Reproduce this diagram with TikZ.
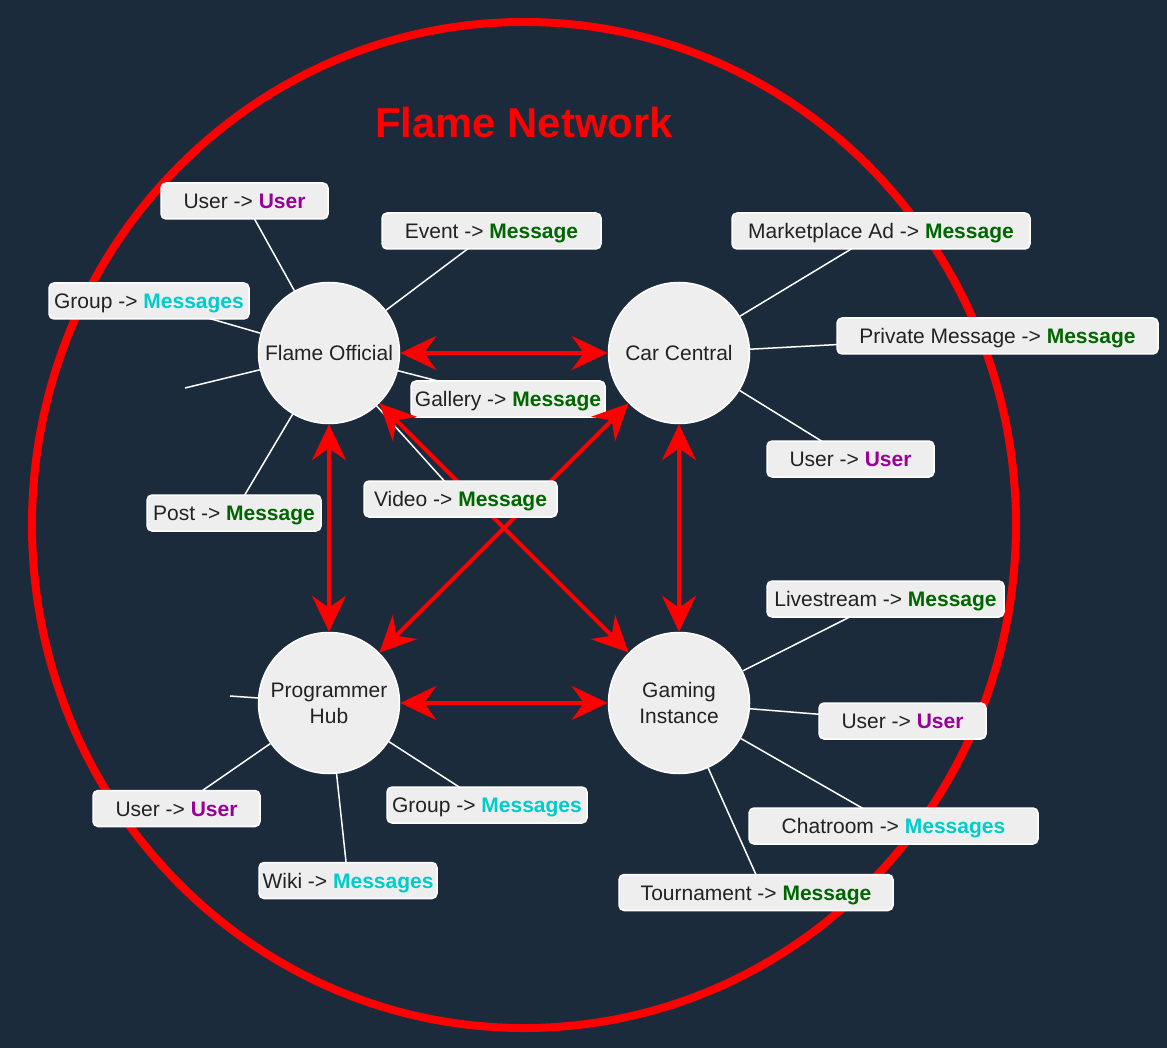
\documentclass[tikz,border=0pt]{standalone}
\usepackage{fontspec}
\setmainfont{Liberation Sans}
\usetikzlibrary{arrows.meta,calc}
\definecolor{bgcol}{HTML}{1B2B3C}
\definecolor{boxgray}{HTML}{EEEEEE}
\definecolor{textdark}{HTML}{222222}
\definecolor{usercol}{HTML}{990099}
\definecolor{msggreen}{HTML}{006600}
\definecolor{msgcyan}{HTML}{00CCCC}
\newcommand{\usr}{\textbf{\color{usercol}User}}
\newcommand{\msg}{\textbf{\color{msggreen}Message}}
\newcommand{\msgs}{\textbf{\color{msgcyan}Messages}}
\begin{document}
\begin{tikzpicture}[x=1pt,y=-1pt,
  lbl/.style={draw=white, line width=1.5pt, fill=boxgray, rounded corners=5pt,
    minimum height=36pt, inner sep=0pt, text height=15pt, text depth=0pt,
    font=\fontsize{21}{25}\selectfont, text=textdark},
  hub/.style={circle, draw=white, line width=1.5pt, fill=boxgray, minimum size=141pt,
    inner sep=0pt, align=center, font=\fontsize{21}{26}\selectfont, text=textdark},
  link/.style={white, line width=1.5pt},
  rel/.style={red, line width=4pt,
    {Stealth[length=36pt,width=34pt,inset=12pt]}-{Stealth[length=36pt,width=34pt,inset=12pt]}},
  ring/.style={red, line width=8pt}]
\fill[bgcol] (0,0) rectangle (1167,1048);
\useasboundingbox (0,0) rectangle (1167,1048);
\draw[ring] (524,525) ellipse [x radius=492, y radius=503];
\node[font=\fontsize{41.8}{42}\selectfont\bfseries, text=red, anchor=base, inner sep=0pt] (title) at (524,137.5) {Flame Network};

% hubs
\node[hub] (fo) at (329,353) {Flame Official};
\node[hub] (cc) at (679,353) {Car Central};
\node[hub] (ph) at (329,703) {Programmer\\Hub};
\node[hub] (gi) at (679,703) {Gaming\\Instance};

% free ends
\coordinate (df) at (185,388);
\coordinate (dp) at (230,696);

% label positions
\coordinate (l1c) at (244.5,201);
\coordinate (l2c) at (491.5,231);
\coordinate (l3c) at (149,301);
\coordinate (l4c) at (508,399);
\coordinate (l5c) at (234,513);
\coordinate (l6c) at (460.5,499);
\coordinate (c1c) at (881,231);
\coordinate (c2c) at (997.5,336);
\coordinate (c3c) at (850.5,459);
\coordinate (g1c) at (885.5,599);
\coordinate (g2c) at (902.5,721);
\coordinate (g3c) at (893.5,826);
\coordinate (g4c) at (756,892.5);
\coordinate (p1c) at (176.5,808.5);
\coordinate (p2c) at (487,805);
\coordinate (p3c) at (348,880.5);

% white connectors (drawn under labels)
\draw[link] (fo) -- (l1c);
\draw[link] (fo) -- (l2c);
\draw[link] (fo) -- (l3c);
\draw[link] (fo) -- (l4c);
\draw[link] (fo) -- (l5c);
\draw[link] (fo) -- (l6c);
\draw[link] (fo) -- (df);
\draw[link] (cc) -- (c1c);
\draw[link] (cc) -- (c2c);
\draw[link] (cc) -- (c3c);
\draw[link] (gi) -- (g1c);
\draw[link] (gi) -- (g2c);
\draw[link] (gi) -- (g3c);
\draw[link] (gi) -- ($(g4c)+(8,0)$);
\draw[link] (ph) -- (p1c);
\draw[link] (ph) -- (p2c);
\draw[link] (ph) -- (p3c);
\draw[link] (ph) -- (dp);

% labels
\node[lbl, minimum width=167pt] (l1) at (l1c) {User -> \usr};
\node[lbl, minimum width=219pt] (l2) at (l2c) {Event -> \msg};
\node[lbl, minimum width=200pt] (l3) at (l3c) {Group -> \msgs};
\node[lbl, minimum width=194pt] (l4) at (l4c) {Gallery -> \msg};
\node[lbl, minimum width=174pt] (l5) at (l5c) {Post -> \msg};
\node[lbl, minimum width=298pt] (c1) at (c1c) {Marketplace Ad -> \msg};
\node[lbl, minimum width=321pt] (c2) at (c2c) {Private Message -> \msg};
\node[lbl, minimum width=167pt] (c3) at (c3c) {User -> \usr};
\node[lbl, minimum width=237pt] (g1) at (g1c) {Livestream -> \msg};
\node[lbl, minimum width=167pt] (g2) at (g2c) {User -> \usr};
\node[lbl, minimum width=289pt] (g3) at (g3c) {Chatroom -> \msgs};
\node[lbl, minimum width=274pt] (g4) at (g4c) {Tournament -> \msg};
\node[lbl, minimum width=167pt] (p1) at (p1c) {User -> \usr};
\node[lbl, minimum width=200pt] (p2) at (p2c) {Group -> \msgs};
\node[lbl, minimum width=178pt] (p3) at (p3c) {Wiki -> \msgs};

% red relations
\draw[rel] (fo) -- (cc);
\draw[rel] (fo) -- (ph);
\draw[rel] (cc) -- (gi);
\draw[rel] (ph) -- (gi);
\draw[rel] (fo) -- (gi);
\draw[rel] (cc) -- (ph);

\node[lbl, minimum width=193pt] (l6) at (l6c) {Video -> \msg};
\end{tikzpicture}
\end{document}
